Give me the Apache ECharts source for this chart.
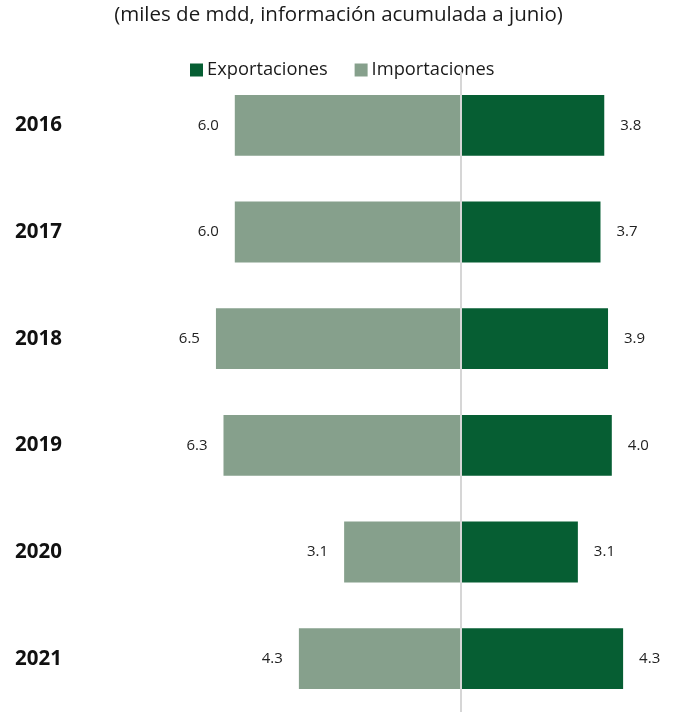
<!DOCTYPE html>
<html>
<head>
<meta charset="utf-8">
<script src="https://cdn.jsdelivr.net/npm/echarts@6/dist/echarts.min.js"></script>
<style>
  html, body { margin: 0; padding: 0; background: #fff; }
  #chart { width: 677px; height: 712px; }
</style>
</head>
<body>
<div id="chart"></div>
<script>
// Balanza comercial por año (miles de millones de dólares, enero-junio)
const years = ['2016', '2017', '2018', '2019', '2020', '2021'];
const exportaciones = [3.8, 3.7, 3.9, 4.0, 3.1, 4.3];
const importaciones = [6.0, 6.0, 6.5, 6.3, 3.1, 4.3];

const FONT = '"Open Sans", "Noto Sans", sans-serif';
const darkGreen = '#065e33';
const lightGreen = '#86a08c';

const chart = echarts.init(document.getElementById('chart'));

chart.setOption({
  animation: false,
  textStyle: { fontFamily: FONT },
  title: {
    text: '(miles de mdd, información acumulada a junio)',
    left: 'center',
    top: 0,
    textStyle: { fontFamily: FONT, fontSize: 20.5, fontWeight: 'normal', color: '#1a1a1a' }
  },
  legend: {
    top: 56,
    left: 185,
    itemWidth: 13,
    itemHeight: 13,
    itemGap: 27,
    icon: 'rect',
    textStyle: { fontFamily: FONT, fontSize: 18.3, color: '#1a1a1a', padding: [0, 0, 0, -1] },
    data: ['Exportaciones', 'Importaciones']
  },
  grid: { left: 84, right: 27.5, top: 72, bottom: 0, containLabel: false },
  xAxis: {
    type: 'value',
    min: -10,
    max: 5,
    show: false
  },
  yAxis: {
    type: 'category',
    data: years,
    inverse: true,
    axisLine: { show: false, onZero: false },
    axisTick: { show: false },
    axisLabel: {
      align: 'left',
      margin: 69,
      fontFamily: FONT,
      fontSize: 20.5,
      fontWeight: 'bold',
      color: '#111'
    }
  },
  series: [
    {
      name: 'Importaciones',
      type: 'bar',
      stack: 'total',
      barWidth: '57%',
      itemStyle: { color: lightGreen },
      label: {
        show: true,
        position: 'left',
        distance: 16,
        fontFamily: FONT,
        fontSize: 15,
        color: '#222',
        formatter: p => Math.abs(p.value).toFixed(1)
      },
      data: importaciones.map(v => -v)
    },
    {
      name: 'Exportaciones',
      type: 'bar',
      stack: 'total',
      barWidth: '57%',
      itemStyle: { color: darkGreen },
      label: {
        show: true,
        position: 'right',
        distance: 16,
        fontFamily: FONT,
        fontSize: 15,
        color: '#222',
        formatter: p => p.value.toFixed(1)
      },
      markLine: {
        silent: true,
        symbol: 'none',
        label: { show: false },
        lineStyle: { color: '#d6d6d6', width: 2, type: 'solid' },
        data: [{ xAxis: 0 }]
      },
      data: exportaciones
    }
  ]
});
</script>
</body>
</html>
